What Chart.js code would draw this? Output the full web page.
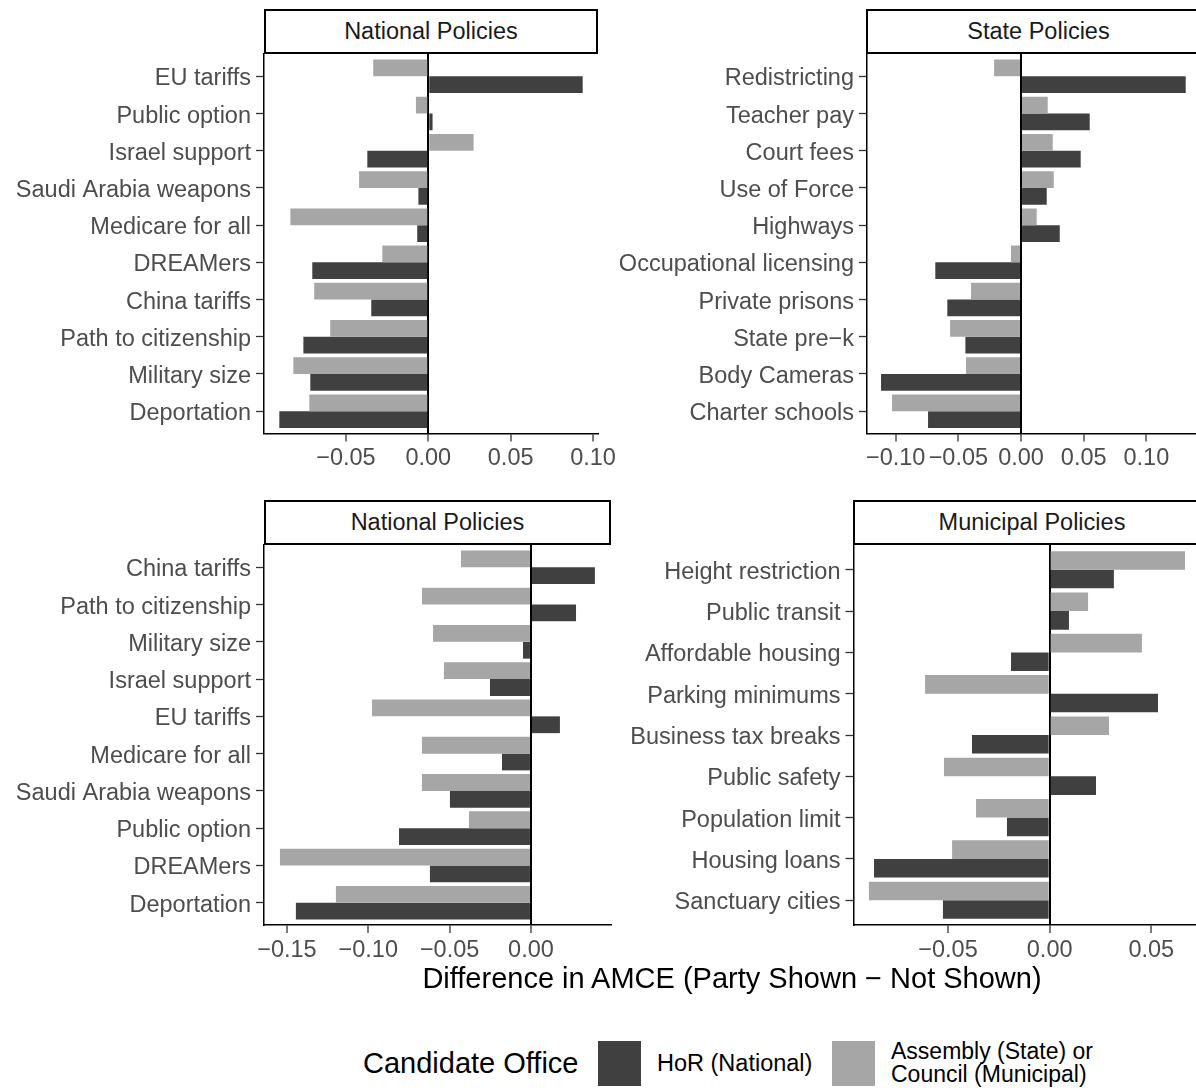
<!DOCTYPE html>
<html>
<head>
<meta charset="utf-8">
<script src="https://cdn.jsdelivr.net/npm/chart.js@4.4.1/dist/chart.umd.min.js"></script>
<style>
  body { margin: 0; width: 1196px; height: 1090px; overflow: hidden; background: #fff; position: relative;
         font-family: "Liberation Sans", Arial, sans-serif; }
  canvas { position: absolute; }
  .strip { position: absolute; box-sizing: border-box; border: 2px solid #000; background: #fff;
           text-align: center; font-size: 23.5px; color: #1a1a1a; line-height: 41px; height: 45px; }
  .txt { position: absolute; white-space: nowrap; color: #000; }
  .key { position: absolute; width: 43px; height: 45px; }
</style>
</head>
<body>
<canvas id="pNatTop" width="630" height="452" style="left:0;top:30px"></canvas>
<canvas id="pState" width="596" height="452" style="left:600px;top:30px"></canvas>
<canvas id="pNatBot" width="643" height="452" style="left:0;top:521px"></canvas>
<canvas id="pMuni" width="596" height="452" style="left:600px;top:521px"></canvas>

<div class="strip" style="left:264px;top:9px;width:334px">National Policies</div>
<div class="strip" style="left:866px;top:9px;width:345px">State Policies</div>
<div class="strip" style="left:264px;top:500px;width:347px">National Policies</div>
<div class="strip" style="left:853px;top:500px;width:358px">Municipal Policies</div>

<div class="txt" style="left:732px;top:960px;transform:translateX(-50%);font-size:29px;line-height:36px">Difference in AMCE (Party Shown − Not Shown)</div>

<div class="txt" style="left:363px;top:1045px;font-size:29px;line-height:36px">Candidate Office</div>
<div class="key" style="left:598px;top:1041px;background:#404040"></div>
<div class="txt" style="left:657px;top:1049px;font-size:23.5px;line-height:28px">HoR (National)</div>
<div class="key" style="left:832px;top:1041px;background:#a6a6a6"></div>
<div class="txt" style="left:891px;top:1040px;font-size:23px;line-height:23px">Assembly (State) or<br>Council (Municipal)</div>

<script>
// ===== DADOS =====
const natTopCats = ["EU tariffs", "Public option", "Israel support", "Saudi Arabia weapons", "Medicare for all",
    "DREAMers", "China tariffs", "Path to citizenship", "Military size", "Deportation"];
const natTopHoR = [0.0937, 0.0026, -0.037, -0.006, -0.0067, -0.0704, -0.0346, -0.0758, -0.0716, -0.0904];
const natTopAssembly = [-0.0334, -0.0075, 0.0275, -0.042, -0.0837, -0.0279, -0.0692, -0.0595, -0.0819, -0.0722];

const stateCats = ["Redistricting", "Teacher pay", "Court fees", "Use of Force", "Highways",
    "Occupational licensing", "Private prisons", "State pre\u2212k", "Body Cameras", "Charter schools"];
const stateHoR = [0.1314, 0.0548, 0.0476, 0.0205, 0.0309, -0.0684, -0.0588, -0.0444, -0.1117, -0.0742];
const stateAssembly = [-0.0215, 0.0213, 0.0253, 0.0261, 0.0125, -0.008, -0.0399, -0.0566, -0.0439, -0.1029];

const natBotCats = ["China tariffs", "Path to citizenship", "Military size", "Israel support", "EU tariffs",
    "Medicare for all", "Saudi Arabia weapons", "Public option", "DREAMers", "Deportation"];
const natBotHoR = [0.0393, 0.0277, -0.0049, -0.0252, 0.0178, -0.0178, -0.0498, -0.0811, -0.0621, -0.1445];
const natBotAssembly = [-0.043, -0.067, -0.0602, -0.0535, -0.0977, -0.067, -0.067, -0.0381, -0.1543, -0.1199];

const muniCats = ["Height restriction", "Public transit", "Affordable housing", "Parking minimums",
    "Business tax breaks", "Public safety", "Population limit", "Housing loans", "Sanctuary cities"];
const muniHoR = [0.0316, 0.0095, -0.019, 0.0533, -0.0382, 0.0228, -0.021, -0.0864, -0.0525];
const muniAssembly = [0.0666, 0.0189, 0.0454, -0.0613, 0.0292, -0.052, -0.0362, -0.048, -0.0889];

// eixo x de cada painel
const natTopTicks = [-0.05, 0, 0.05, 0.10];
const stateTicks = [-0.10, -0.05, 0, 0.05, 0.10];
const natBotTicks = [-0.15, -0.10, -0.05, 0];
const muniTicks = [-0.05, 0, 0.05];

Chart.defaults.font.family = '"Liberation Sans", Arial, sans-serif';

function fmt(v) {
    return (v < 0 ? "\u2212" : "") + Math.abs(v).toFixed(2);
}

/* ===== PAINEL ===== */
function painel(id, cats, hor, asm, xMin, xMax, ticks, yWidth, pad) {
    new Chart(document.getElementById(id), {
        type: "bar",
        data: {
            datasets: [{
                label: "Assembly (State) or Council (Municipal)",
                data: cats.map((c, i) => ({ y: i, x: asm[i] })),
                backgroundColor: "#a6a6a6",
                categoryPercentage: 0.9,
                barPercentage: 1
            }, {
                label: "HoR (National)",
                data: cats.map((c, i) => ({ y: i, x: hor[i] })),
                backgroundColor: "#404040",
                categoryPercentage: 0.9,
                barPercentage: 1
            }]
        },
        options: {
            indexAxis: "y",
            responsive: false,
            animation: false,
            layout: { padding: pad },
            plugins: { legend: { display: false }, tooltip: { enabled: false } },
            scales: {
                y: {
                    type: "linear",
                    reverse: true,
                    offset: false,
                    min: -0.6,
                    max: cats.length - 0.4,
                    afterBuildTicks: s => { s.ticks = cats.map((c, i) => ({ value: i })); },
                    afterFit: s => { s.width = yWidth; },
                    ticks: { callback: v => cats[v], autoSkip: false, color: "#4d4d4d", font: { size: 23.5 },
                             padding: 5, labelOffset: 2.5 },
                    grid: { display: true, offset: false, drawOnChartArea: false, tickLength: 8, tickColor: "#333", tickWidth: 1.3 },
                    border: { display: true, color: "#000", width: 1.5 }
                },
                x: {
                    type: "linear",
                    min: xMin,
                    max: xMax,
                    z: 1,
                    afterBuildTicks: s => { s.ticks = ticks.map(v => ({ value: v })); },
                    afterFit: s => { s.height = 40; },
                    ticks: { callback: v => fmt(v), autoSkip: false, maxRotation: 0, minRotation: 0,
                             color: "#4d4d4d", font: { size: 23.5 }, padding: 3 },
                    grid: {
                        color: c => (c.tick && c.tick.value === 0) ? "#000" : "rgba(0,0,0,0)",
                        lineWidth: 2,
                        tickColor: "#333", tickLength: 8, tickWidth: 1.3
                    },
                    border: { display: true, color: "#000", width: 1.5 }
                }
            }
        }
    });
}

painel("pNatTop", natTopCats, natTopHoR, natTopAssembly, -0.0997, 0.103, natTopTicks, 264,
    { top: 24, right: 32, bottom: 8.5, left: 0 });
painel("pState", stateCats, stateHoR, stateAssembly, -0.1229, 0.1396, stateTicks, 267,
    { top: 24, right: 0, bottom: 8.5, left: 0 });
painel("pNatBot", natBotCats, natBotHoR, natBotAssembly, -0.1641, 0.0492, natBotTicks, 264,
    { top: 24, right: 32, bottom: 8, left: 0 });
painel("pMuni", muniCats, muniHoR, muniAssembly, -0.0965, 0.072, muniTicks, 253.5,
    { top: 24, right: 0, bottom: 8, left: 0 });
</script>
</body>
</html>
